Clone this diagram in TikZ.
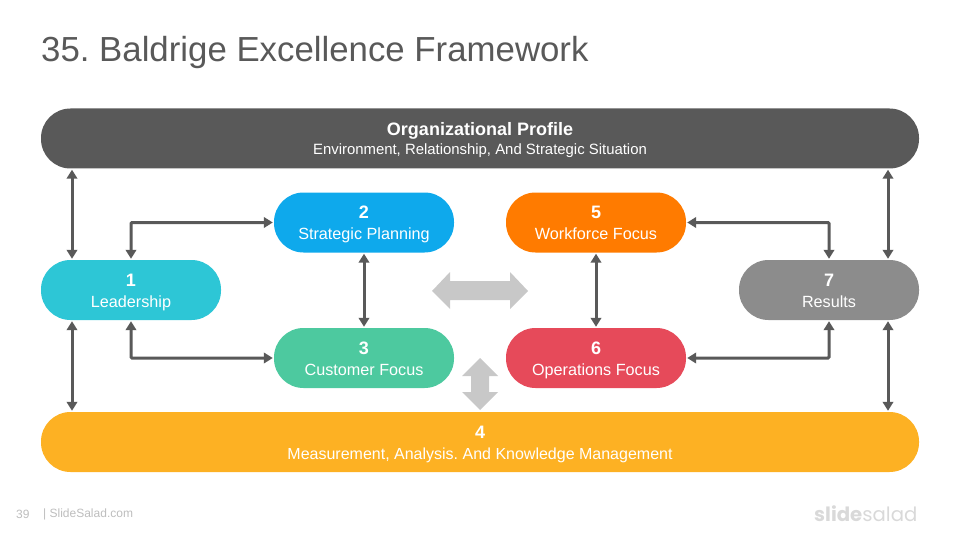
\documentclass[tikz,border=0pt]{standalone}
\usepackage{fontspec}
\setmainfont{Liberation Sans}
\newfontfamily\logofont{Poppins}
\usetikzlibrary{arrows.meta}
\definecolor{titlegray}{HTML}{595959}
\definecolor{cTop}{HTML}{595959}
\definecolor{cOne}{HTML}{2DC6D6}
\definecolor{cTwo}{HTML}{0EA9EC}
\definecolor{cThree}{HTML}{4DC99F}
\definecolor{cFour}{HTML}{FDB123}
\definecolor{cFive}{HTML}{FF7B00}
\definecolor{cSix}{HTML}{E64A5A}
\definecolor{cSeven}{HTML}{8C8C8C}
\definecolor{cBlock}{HTML}{C8C8C8}
\definecolor{cFoot}{HTML}{BDBDBD}
\definecolor{cLogo}{HTML}{D9D9D9}
\tikzset{
  x=1pt,y=-1pt,
  pill/.style={rectangle,rounded corners=29.5pt,inner sep=0pt,text=white,align=center,minimum height=60pt,minimum width=180pt,font=\fontsize{16.2}{21}\selectfont},
  wide/.style={pill,minimum width=878pt},
  link/.style={draw=cTop,line width=3pt,{Triangle[length=9pt,width=10.5pt]}-{Triangle[length=9pt,width=10.5pt]},shorten >=1pt,shorten <=1pt}
}
\newcommand{\hd}[2][18.5pt]{\rule{0pt}{#1}{\fontsize{18}{21}\selectfont\bfseries #2}}
\newcommand{\dpth}{\rule[-5pt]{0pt}{5pt}}
\begin{document}
\begin{tikzpicture}
\frenchspacing
\useasboundingbox (0,0) rectangle (960,540);
\node[anchor=west,text=titlegray,font=\fontsize{34.8}{38}\selectfont,inner sep=0pt] (title) at (41,53) {35. Baldrige Excellence Framework};
\node[wide,fill=cTop,font=\fontsize{14.9}{19}\selectfont] (top) at (480,138.5) {\hd[19pt]{Organizational Profile}\\Environment, Relationship, And Strategic Situation\dpth};
\node[wide,fill=cFour,font=\fontsize{16}{21}\selectfont] (four) at (480,442) {\hd{4}\\Measurement, Analysis. And Knowledge Management\dpth};
\node[pill,fill=cOne] (one) at (131,290) {\hd{1}\\Leadership\dpth};
\node[pill,fill=cTwo] (two) at (364,222.5) {\hd{2}\\Strategic Planning\dpth};
\node[pill,fill=cThree] (three) at (364,358) {\hd{3}\\Customer Focus\dpth};
\node[pill,fill=cFive] (five) at (596,222.5) {\hd{5}\\Workforce Focus\dpth};
\node[pill,fill=cSix] (six) at (596,358) {\hd{6}\\Operations Focus\dpth};
\node[pill,fill=cSeven] (seven) at (829,290) {\hd{7}\\Results\dpth};
% connectors
\coordinate (la) at ([xshift=-59pt]one.north);
\coordinate (lb) at ([xshift=-59pt]one.south);
\coordinate (ra) at ([xshift=59pt]seven.north);
\coordinate (rb) at ([xshift=59pt]seven.south);
\draw[link] (la) -- (la |- top.south);
\draw[link] (lb) -- (lb |- four.north);
\draw[link] (ra) -- (ra |- top.south);
\draw[link] (rb) -- (rb |- four.north);
\draw[link,rounded corners=1pt] (one.north) |- (two.west);
\draw[link,rounded corners=1pt] (one.south) |- (three.west);
\draw[link,rounded corners=1pt] (seven.north) |- (five.east);
\draw[link,rounded corners=1pt] (seven.south) |- (six.east);
\draw[link] (two.south) -- (three.north);
\draw[link] (five.south) -- (six.north);
% block arrows
\fill[cBlock] (432,291) -- (450,272) -- (450,281) -- (510,281) -- (510,272) -- (528,291) -- (510,309) -- (510,300) -- (450,300) -- (450,309) -- cycle;
\fill[cBlock] (480,358) -- (498,376) -- (489,376) -- (489,392) -- (498,392) -- (480,410) -- (462,392) -- (471,392) -- (471,376) -- (462,376) -- cycle;
% footer
\node[anchor=west,text=cFoot,font=\fontsize{12}{14}\selectfont,inner sep=0pt] (page) at (16,514) {39};
\node[anchor=west,text=cFoot,font=\fontsize{12}{14}\selectfont,inner sep=0pt] (brand) at (43,514) {| SlideSalad.com};
\node[anchor=west,text=cLogo,font=\logofont\fontsize{19.7}{24}\selectfont,inner sep=0pt] (logo) at (814,514) {\textbf{slide}salad};
\end{tikzpicture}
\end{document}
